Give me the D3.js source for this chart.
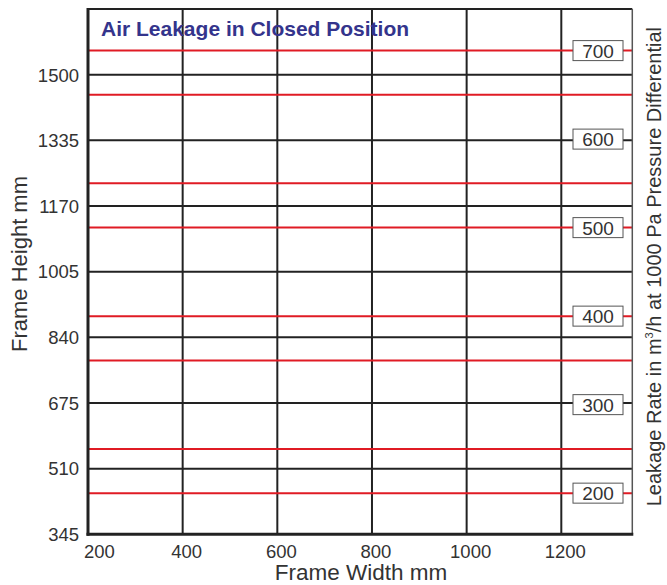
<!DOCTYPE html>
<html>
<head>
<meta charset="utf-8">
<script src="https://cdn.jsdelivr.net/npm/d3@7"></script>
<style>
  html, body { margin: 0; padding: 0; background: #fff; }
  svg { display: block; font-family: "Liberation Sans", Arial, Helvetica, sans-serif; }
</style>
</head>
<body>
<div id="chart"></div>
<script>
// ---- data ----
const xTicks = [200, 400, 600, 800, 1000, 1200];            // Frame Width mm
const yTicks = [345, 510, 675, 840, 1005, 1170, 1335, 1500]; // Frame Height mm
const leakageLines = [700, 650, 550, 500, 400, 350, 250, 200]; // red iso-leakage lines (m3/h)
const leakageLabels = [700, 600, 500, 400, 300, 200];          // boxed labels (m3/h)
const xDomain = [200, 1350];
const yDomain = [345, 1665];
const rateDomain = [153.5, 747];

const W = 667, H = 585;
const plot = { left: 88, right: 632.3, top: 9, bottom: 534.3 };

const svg = d3.select("#chart").append("svg").attr("width", W).attr("height", H);

const x = d3.scaleLinear().domain(xDomain).range([plot.left, plot.right]);
const y = d3.scaleLinear().domain(yDomain).range([plot.bottom, plot.top]);
const yR = d3.scaleLinear().domain(rateDomain).range([plot.bottom, plot.top]);

// vertical grid
svg.append("g").selectAll("line").data(xTicks.filter(d => d > xDomain[0])).join("line")
  .attr("x1", d => x(d)).attr("x2", d => x(d))
  .attr("y1", plot.top).attr("y2", plot.bottom)
  .attr("stroke", "#222").attr("stroke-width", 2);

// horizontal grid
svg.append("g").selectAll("line").data(yTicks.filter(d => d > yDomain[0])).join("line")
  .attr("x1", plot.left).attr("x2", plot.right)
  .attr("y1", d => y(d)).attr("y2", d => y(d))
  .attr("stroke", "#222").attr("stroke-width", 2);

// red leakage lines
svg.append("g").selectAll("line").data(leakageLines).join("line")
  .attr("x1", plot.left).attr("x2", plot.right)
  .attr("y1", d => yR(d)).attr("y2", d => yR(d))
  .attr("stroke", "#e01b24").attr("stroke-width", 2);

// frame
svg.append("line").attr("x1", plot.left).attr("x2", plot.right).attr("y1", plot.top).attr("y2", plot.top)
  .attr("stroke", "#222").attr("stroke-width", 2);
svg.append("line").attr("x1", plot.right).attr("x2", plot.right).attr("y1", plot.top).attr("y2", plot.bottom)
  .attr("stroke", "#555").attr("stroke-width", 1.5);
svg.append("line").attr("x1", plot.left).attr("x2", plot.left).attr("y1", plot.top - 1).attr("y2", plot.bottom + 1.5)
  .attr("stroke", "#222").attr("stroke-width", 3);
svg.append("line").attr("x1", plot.left - 1.5).attr("x2", plot.right + 1).attr("y1", plot.bottom).attr("y2", plot.bottom)
  .attr("stroke", "#222").attr("stroke-width", 3);

// boxed leakage labels
const boxW = 50, boxH = 20, boxCx = 598;
const lb = svg.append("g").selectAll("g").data(leakageLabels).join("g")
  .attr("transform", d => `translate(${boxCx},${yR(d)})`);
lb.append("rect").attr("x", -boxW / 2).attr("y", -boxH / 2).attr("width", boxW).attr("height", boxH)
  .attr("fill", "#fff").attr("stroke", "#555").attr("stroke-width", 1);
lb.append("text").attr("text-anchor", "middle").attr("dy", "0.37em")
  .attr("font-size", 19).attr("fill", "#333").text(d => d);

// y tick labels
svg.append("g").selectAll("text").data(yTicks).join("text")
  .attr("x", 79).attr("y", d => y(d)).attr("dy", "0.37em")
  .attr("text-anchor", "end").attr("font-size", 18.5).attr("fill", "#333").text(d => d);

// x tick labels
svg.append("g").selectAll("text").data(xTicks).join("text")
  .attr("x", (d, i) => i === 0 ? x(d) - 4 : x(d) + 4).attr("y", 558)
  .attr("text-anchor", (d, i) => i === 0 ? "start" : "middle")
  .attr("font-size", 18.5).attr("fill", "#333").text(d => d);

// titles
svg.append("text").attr("x", 101).attr("y", 36).attr("font-size", 21).attr("font-weight", "bold")
  .attr("fill", "#34348c").text("Air Leakage in Closed Position");

svg.append("text").attr("x", 361).attr("y", 580).attr("text-anchor", "middle")
  .attr("font-size", 22.5).attr("fill", "#333").text("Frame Width mm");

svg.append("text").attr("transform", `translate(27,264) rotate(-90)`)
  .attr("text-anchor", "middle").attr("font-size", 22).attr("fill", "#333").text("Frame Height mm");

const rt = svg.append("text").attr("transform", `translate(661,${(plot.top + plot.bottom) / 2 - 5}) rotate(-90)`)
  .attr("text-anchor", "middle").attr("font-size", 20).attr("fill", "#333");
rt.append("tspan").text("Leakage Rate in m");
rt.append("tspan").attr("font-size", 11).attr("dy", -8).text("3");
rt.append("tspan").attr("dy", 8).text("/h at 1000 Pa Pressure Differential");
</script>
</body>
</html>
